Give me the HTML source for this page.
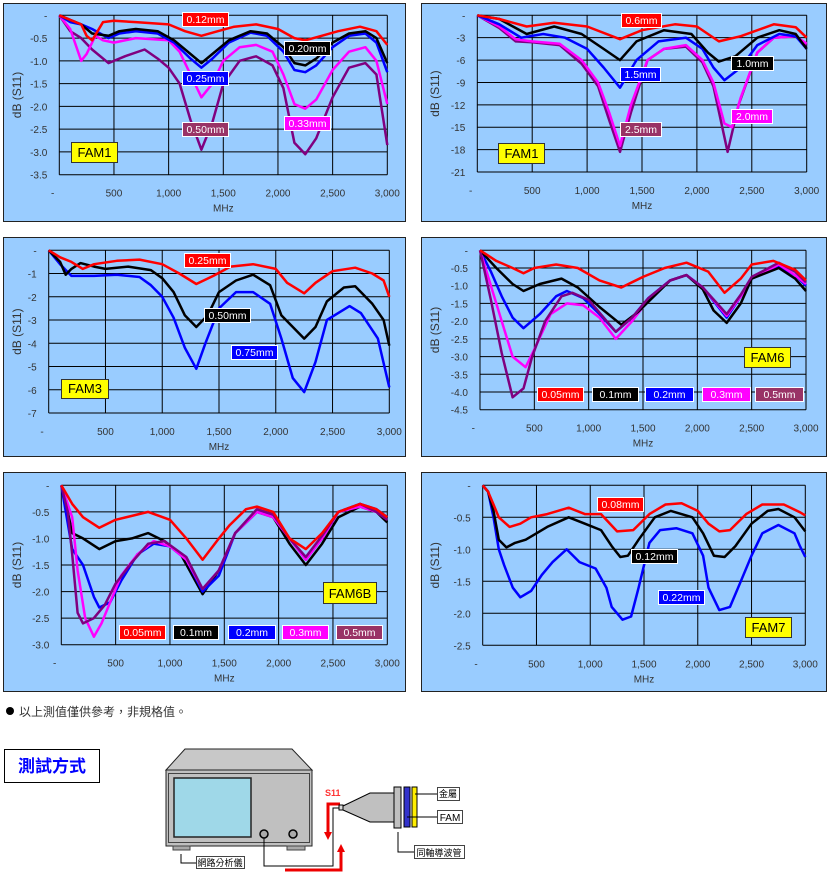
<!DOCTYPE html>
<html><head><meta charset="utf-8">
<style>
html,body{margin:0;padding:0;background:#fff;width:828px;height:885px;overflow:hidden}
svg{display:block}
text{font-family:"Liberation Sans","Noto Sans CJK TC",sans-serif}
</style></head>
<body>
<svg id="root" width="828" height="885" viewBox="0 0 828 885" xmlns="http://www.w3.org/2000/svg">
<g id="charts"></g>
<g>
<circle cx="10" cy="711" r="4" fill="#000"/>
<text x="19" y="716" font-size="12" fill="#333" font-family="Liberation Sans, Noto Sans CJK TC, sans-serif">以上測值僅供參考，非規格值。</text>
</g>
<g>
<rect x="4.5" y="749.5" width="95" height="33" fill="#fff" stroke="#000"/>
<text x="52" y="772" font-size="17" font-weight="bold" fill="#0000ff" text-anchor="middle" font-family="Liberation Sans, Noto Sans CJK TC, sans-serif">測試方式</text>
</g>
<g>
<polygon points="185,749 292,749 312,770 166,770" fill="#c8c8c8" stroke="#222" stroke-width="1"/>
<rect x="166" y="770" width="146" height="76" fill="#c0c0c0" stroke="#222"/>
<rect x="168.5" y="773.5" width="141" height="69" fill="none" stroke="#444"/>
<rect x="174" y="778" width="77" height="59" fill="#9fd8e8" stroke="#222" stroke-width="1.5"/>
<circle cx="264" cy="834" r="4" fill="#aaa" stroke="#000" stroke-width="1.5"/>
<circle cx="293" cy="834" r="4" fill="#aaa" stroke="#000" stroke-width="1.5"/>
<rect x="173" y="846" width="17" height="4" fill="#aaa" stroke="#444"/>
<rect x="287" y="846" width="18" height="4" fill="#aaa" stroke="#444"/>
<polyline points="181,854 181,863 196,863" fill="none" stroke="#000"/>
<rect x="196.5" y="856.5" width="48" height="12" fill="#fff" stroke="#444"/>
<text x="220" y="866" font-size="9" text-anchor="middle" fill="#000">網路分析儀</text>
<polyline points="264,838 264,866 333,866 333,808 340,808" fill="none" stroke="#000" stroke-width="1"/>
<polyline points="340,804 328,804 328,834" fill="none" stroke="#e00" stroke-width="3"/>
<polygon points="324,832 332,832 328,840" fill="#e00"/>
<polyline points="285,870 341,870 341,850" fill="none" stroke="#e00" stroke-width="3"/>
<polygon points="337,852 345,852 341,844" fill="#e00"/>
<text x="325" y="796" font-size="9" font-weight="bold" fill="#f33">S11</text>
<rect x="339" y="805" width="4" height="5" fill="#ddd" stroke="#000"/>
<polygon points="343,806 370,793 394,793 394,822 370,822 343,810" fill="#c0c0c0" stroke="#000"/>
<rect x="394" y="787" width="7" height="41" fill="#c0c0c0" stroke="#000"/>
<rect x="404" y="787" width="6" height="40" fill="#3333cc" stroke="#000"/>
<rect x="412" y="787" width="5" height="40" fill="#ffee00" stroke="#000"/>
<line x1="415" y1="794" x2="437" y2="794" stroke="#000"/>
<line x1="407" y1="817" x2="437" y2="817" stroke="#000"/>
<polyline points="398,832 398,852 414,852" fill="none" stroke="#000"/>
<rect x="437.5" y="787.5" width="22" height="13" fill="#fff" stroke="#444"/>
<text x="448" y="797" font-size="9" text-anchor="middle">金屬</text>
<rect x="437.5" y="810.5" width="25" height="13" fill="#fff" stroke="#444"/>
<text x="450" y="821" font-size="10" text-anchor="middle">FAM</text>
<rect x="414.5" y="845.5" width="50" height="13" fill="#fff" stroke="#444"/>
<text x="439" y="856" font-size="9" text-anchor="middle">同軸導波管</text>
</g>
</svg>
<script>
// ---- Chart 1 (FAM1 small) ----
const c1_x0 = [0,100,200,250,300,350,400,500,700,1000,1150,1300,1450,1600,1800,2000,2150,2250,2400,2550,2750,2900,3000];
const c1_red = [0,-0.1,-0.2,-0.45,-0.55,-0.35,-0.15,-0.12,-0.15,-0.2,-0.35,-0.45,-0.35,-0.25,-0.2,-0.3,-0.5,-0.55,-0.45,-0.35,-0.25,-0.35,-0.65];
const c1_x1 = [0,100,200,300,450,550,700,900,1050,1200,1300,1400,1550,1750,1900,2050,2150,2250,2350,2500,2650,2800,2900,3000];
const c1_black = [0,-0.1,-0.2,-0.4,-0.45,-0.35,-0.3,-0.35,-0.55,-0.85,-1.05,-0.85,-0.55,-0.35,-0.4,-0.7,-1.05,-1.1,-0.95,-0.6,-0.4,-0.35,-0.5,-1.05];
const c1_blue = [0,-0.15,-0.2,-0.3,-0.5,-0.4,-0.35,-0.4,-0.6,-0.95,-1.15,-0.95,-0.6,-0.38,-0.45,-0.8,-1.2,-1.25,-1.1,-0.7,-0.45,-0.4,-0.6,-1.25];
const c1_x2 = [0,100,200,250,330,400,500,700,1000,1100,1200,1300,1400,1500,1650,1800,1950,2050,2150,2250,2350,2500,2650,2800,2900,3000];
const c1_mag = [0,-0.3,-1.0,-0.85,-0.45,-0.55,-0.6,-0.5,-0.55,-0.8,-1.3,-1.8,-1.5,-1.0,-0.7,-0.65,-0.8,-1.3,-1.95,-2.05,-1.85,-1.2,-0.8,-0.7,-1.0,-1.95];
const c1_x3 = [0,100,200,300,450,600,780,900,1000,1100,1200,1300,1400,1500,1650,1800,1950,2050,2150,2250,2350,2500,2650,2800,2900,3000];
const c1_pur = [0,-0.35,-0.5,-0.75,-1.05,-0.9,-0.75,-0.95,-1.15,-1.5,-2.3,-2.95,-2.35,-1.5,-1.0,-0.9,-1.1,-1.6,-2.8,-3.05,-2.7,-1.8,-1.15,-1.05,-1.3,-2.85];
const c1_yticks = ["-","-0.5","-1.0","-1.5","-2.0","-2.5","-3.0","-3.5"];
// ---- Chart 2 (FAM1 large) ----
const c2_xr = [0,200,450,700,1000,1300,1500,1800,2000,2200,2400,2700,2900,3000];
const c2_red = [0,-0.5,-1.5,-1,-1.5,-3.2,-2,-1.2,-1.5,-3.5,-2.8,-1.2,-1.6,-3];
const c2_xk = [0,200,450,700,950,1150,1300,1450,1700,1950,2100,2200,2350,2550,2750,2900,3000];
const c2_black = [0,-0.5,-2.5,-1.5,-2.5,-4.5,-6,-3.5,-2,-2.5,-5,-6.2,-5.5,-3,-2,-2.5,-4.5];
const c2_xb = [0,200,400,600,800,1000,1150,1300,1450,1650,1900,2050,2150,2250,2400,2550,2750,2900,3000];
const c2_blue = [0,-1.2,-3,-2.5,-3,-4.5,-7,-9.7,-6,-3.5,-3,-4.5,-7,-8.7,-7,-4,-2.5,-2.8,-4.5];
const c2_xm = [0,200,350,500,750,950,1100,1200,1300,1400,1550,1700,1900,2050,2150,2250,2320,2400,2550,2700,2900,3000];
const c2_mag = [0,-1.5,-3.2,-3.5,-3.8,-6,-9,-13,-17.5,-12,-6,-4.5,-4,-6,-9,-14.5,-15,-11,-5,-3,-2.8,-3.8];
const c2_xp = [0,200,350,500,750,950,1100,1200,1300,1400,1550,1700,1900,2050,2150,2280,2380,2550,2700,2900,3000];
const c2_pur = [0,-1.7,-3.5,-3.6,-4,-6.5,-9.5,-14,-18.3,-13,-6,-4.5,-4.2,-6.3,-9.5,-18.3,-12,-5,-3,-2.8,-4];
const c2_yticks = ["-","-3","-6","-9","-12","-15","-18","-21"];
// ---- Chart 3 (FAM3) ----
const c3_xr = [0,100,200,300,400,600,800,1000,1150,1300,1450,1600,1800,2000,2100,2250,2350,2500,2700,2850,2950,3000];
const c3_red = [0,-0.3,-0.5,-0.8,-0.6,-0.45,-0.4,-0.6,-1,-1.45,-1.1,-0.7,-0.6,-0.8,-1.4,-1.85,-1.4,-0.9,-0.75,-1,-1.3,-2];
const c3_xk = [0,100,150,200,280,400,500,700,900,1000,1100,1200,1300,1400,1500,1650,1800,1950,2050,2250,2350,2450,2600,2700,2850,2950,3000];
const c3_black = [0,-0.5,-1.05,-0.8,-0.55,-0.7,-0.8,-0.7,-0.85,-1.2,-1.8,-2.8,-3.3,-2.8,-1.8,-1.3,-1.05,-1.5,-2.8,-3.8,-3.3,-2.2,-1.6,-1.55,-2.3,-3,-4.1];
const c3_xb = [0,100,200,400,600,800,900,1000,1100,1200,1300,1380,1500,1650,1800,1950,2050,2150,2250,2350,2450,2550,2650,2750,2900,3000];
const c3_blue = [0,-0.6,-1.1,-1.1,-1.05,-1.15,-1.5,-2,-2.9,-4.2,-5.1,-4,-2.5,-1.8,-1.8,-2.3,-3.8,-5.5,-6.1,-4.8,-3,-2.7,-2.4,-2.7,-3.8,-5.9];
const c3_yticks = ["-","-1","-2","-3","-4","-5","-6","-7"];
// ---- Chart 4 (FAM6) ----
const c4_xr = [0,150,300,400,500,700,900,1100,1300,1500,1700,1900,2100,2250,2400,2500,2700,2900,3000];
const c4_red = [0,-0.3,-0.5,-0.65,-0.5,-0.4,-0.5,-0.85,-1.05,-0.75,-0.5,-0.35,-0.6,-1.2,-0.8,-0.4,-0.3,-0.55,-0.85];
const c4_xk = [0,150,300,400,550,750,900,1100,1300,1450,1600,1750,1900,2050,2150,2270,2400,2500,2750,2900,3000];
const c4_black = [0,-0.5,-0.95,-1.15,-0.95,-0.8,-1.05,-1.6,-2.1,-1.75,-1.3,-0.85,-0.7,-1.1,-1.7,-2.05,-1.5,-0.8,-0.5,-0.8,-1.15];
const c4_xb = [0,100,200,300,400,550,700,800,950,1100,1250,1400,1550,1750,1900,2050,2270,2400,2500,2750,2900,3000];
const c4_blue = [0,-0.6,-1.3,-1.9,-2.2,-1.8,-1.3,-1.15,-1.35,-1.8,-2.3,-1.9,-1.35,-0.85,-0.7,-1.05,-1.9,-1.3,-0.8,-0.45,-0.7,-1];
const c4_xm = [0,100,200,300,420,500,650,800,950,1100,1250,1400,1550,1750,1900,2050,2270,2400,2500,2750,2900,3000];
const c4_mag = [0,-1,-2,-3,-3.3,-2.8,-1.8,-1.5,-1.55,-1.9,-2.5,-2,-1.4,-0.85,-0.7,-1.05,-1.85,-1.3,-0.8,-0.4,-0.7,-0.95];
const c4_xp = [0,100,200,300,400,480,600,750,850,1000,1250,1400,1550,1750,1900,2050,2270,2400,2500,2750,2900,3000];
const c4_pur = [0,-1.4,-2.9,-4.15,-3.9,-3.0,-2,-1.3,-1.2,-1.4,-2.3,-1.9,-1.35,-0.85,-0.7,-1.05,-1.8,-1.25,-0.75,-0.35,-0.6,-0.9];
const c4_yticks = ["-","-0.5","-1.0","-1.5","-2.0","-2.5","-3.0","-3.5","-4.0","-4.5"];
// ---- Chart 5 (FAM6B) ----
const c5_xr = [0,100,200,350,500,800,1000,1150,1300,1450,1550,1700,1800,1950,2100,2250,2400,2550,2750,2900,3000];
const c5_red = [0,-0.35,-0.6,-0.8,-0.65,-0.5,-0.65,-1,-1.4,-1.0,-0.75,-0.45,-0.4,-0.5,-1,-1.2,-0.9,-0.5,-0.35,-0.45,-0.6];
const c5_xk = [0,50,100,200,350,500,650,800,950,1100,1300,1450,1600,1800,1950,2100,2250,2400,2550,2750,2900,3000];
const c5_black = [0,-0.4,-0.9,-1,-1.2,-1.05,-1,-0.9,-1.05,-1.3,-2.05,-1.6,-0.9,-0.5,-0.6,-1.1,-1.5,-1.1,-0.6,-0.4,-0.5,-0.7];
const c5_xb = [0,50,100,200,300,350,450,550,700,850,1000,1150,1300,1450,1600,1800,1950,2100,2250,2400,2550,2750,2900,3000];
const c5_blue = [0,-0.6,-1.2,-1.5,-2.1,-2.3,-2.2,-1.8,-1.3,-1.1,-1.15,-1.4,-2,-1.7,-0.9,-0.5,-0.55,-1,-1.4,-1,-0.5,-0.35,-0.45,-0.6];
const c5_xm = [0,100,150,220,300,370,450,550,700,850,1000,1150,1300,1450,1600,1800,1950,2100,2250,2400,2550,2750,2900,3000];
const c5_mag = [0,-0.6,-1.6,-2.5,-2.85,-2.6,-2.2,-1.7,-1.3,-1.05,-1.15,-1.4,-1.95,-1.6,-0.9,-0.5,-0.6,-1,-1.4,-1,-0.5,-0.4,-0.5,-0.65];
const c5_xp = [0,60,100,150,200,300,400,500,650,800,950,1150,1300,1450,1600,1800,1950,2100,2250,2400,2550,2750,2900,3000];
const c5_pur = [0,-0.5,-1.3,-2.4,-2.6,-2.5,-2.25,-1.85,-1.45,-1.1,-1.05,-1.35,-1.95,-1.6,-0.9,-0.45,-0.55,-1,-1.35,-0.95,-0.5,-0.35,-0.5,-0.65];
const c5_yticks = ["-","-0.5","-1.0","-1.5","-2.0","-2.5","-3.0"];
// ---- Chart 6 (FAM7) ----
const c6_xr = [0,50,100,150,250,350,450,600,800,950,1100,1250,1400,1550,1700,1850,2000,2100,2200,2300,2450,2600,2800,2950,3000];
const c6_red = [0,-0.1,-0.3,-0.5,-0.65,-0.6,-0.5,-0.45,-0.35,-0.45,-0.45,-0.72,-0.7,-0.45,-0.3,-0.28,-0.4,-0.6,-0.72,-0.7,-0.45,-0.3,-0.3,-0.42,-0.47];
const c6_xk = [0,50,100,150,220,300,400,500,600,800,950,1100,1200,1280,1350,1450,1600,1750,1950,2050,2150,2250,2350,2500,2650,2750,2900,3000];
const c6_black = [0,-0.1,-0.4,-0.85,-0.97,-0.9,-0.85,-0.75,-0.65,-0.5,-0.6,-0.7,-0.95,-1.12,-1.1,-0.85,-0.5,-0.4,-0.5,-0.75,-1.1,-1.12,-0.95,-0.6,-0.4,-0.37,-0.5,-0.72];
const c6_xb = [0,50,100,150,200,280,350,450,550,650,780,900,1050,1150,1200,1300,1380,1450,1550,1650,1800,1950,2050,2100,2200,2300,2400,2500,2600,2750,2900,2950,3000];
const c6_blue = [0,-0.1,-0.5,-1.0,-1.25,-1.6,-1.75,-1.65,-1.4,-1.2,-1.0,-1.2,-1.3,-1.6,-1.9,-2.1,-2.05,-1.6,-0.9,-0.7,-0.67,-0.75,-1.1,-1.6,-1.95,-1.9,-1.5,-1.1,-0.75,-0.62,-0.75,-0.95,-1.12];
const c6_yticks = ["-","-0.5","-1.0","-1.5","-2.0","-2.5"];
const xticks = ["-","500","1,000","1,500","2,000","2,500","3,000"];

const NS = "http://www.w3.org/2000/svg";
const COL = {red:"#ff0000",black:"#000000",blue:"#0000ff",mag:"#ff00ff",pur:"#800080"};
const LBL = {red:"#ff0000",black:"#000000",blue:"#0000ff",mag:"#ff00ff",pur:"#993366"};
const root = document.getElementById("charts");
function mk(tag, attrs, parent){const e=document.createElementNS(NS,tag);for(const k in attrs)e.setAttribute(k,attrs[k]);parent.appendChild(e);return e;}

function chart(id, box, plot, ymin, yticks, series, labels, famBox, legend){
  const g = mk("g",{},root);
  
  
  const bg = mk("rect",{x:box[0]+0.5,y:box[1]+0.5,width:box[2]-box[0],height:box[3]-box[1],fill:"#99ccff",stroke:"#222","stroke-width":1},g);
  
  
  const [L,T,R,B] = plot;
  const xs = v => L + (v/3000)*(R-L);
  const ys = v => T + (v/ymin)*(B-T);
  const n = yticks.length-1;
  for(let i=0;i<=n;i++){
    const v = ymin*i/n, y = ys(v);
    const gl = mk("line",{x1:L,x2:R,y1:y,y2:y,stroke:"#000","stroke-width":1},g);
    
    
    const t = mk("text",{x:L-12,y:y+4,"font-size":10,fill:"#333","text-anchor":"end"},g);
    t.textContent = yticks[i];
    
    
  }
  for(let i=0;i<xticks.length;i++){
    const v = i*500, x = xs(v);
    const gl = mk("line",{x1:x,x2:x,y1:T,y2:B,stroke:"#000","stroke-width":1},g);
    
    
    const t = mk("text",{x:i==0?x-5:x,y:B+22,"font-size":10,fill:"#333","text-anchor":i==0?"end":"middle"},g);
    t.textContent = xticks[i];
    
    
  }
  const xt = mk("text",{x:(L+R)/2,y:B+37,"font-size":10,fill:"#333","text-anchor":"middle"},g);
  xt.textContent = "MHz";
  
  
  const yx = box[0]+18, yy=(T+B)/2;
  const yt = mk("text",{x:yx,y:yy,"font-size":12,fill:"#333","text-anchor":"middle",transform:`rotate(-90 ${yx} ${yy})`},g);
  yt.textContent = "dB (S11)";
  
  
  series.forEach(s=>{
    const pts = s.x.map((v,i)=>xs(v).toFixed(1)+","+ys(s.y[i]).toFixed(1)).join(" ");
    const p = mk("polyline",{points:pts,fill:"none",stroke:COL[s.c],"stroke-width":2.5,"stroke-linejoin":"round"},g);
    
    
  });
  labels.forEach(l=>{
    const r = mk("rect",{x:l[0]+0.5,y:l[1]+0.5,width:l[2]-l[0],height:l[3]-l[1],fill:LBL[l[4]],stroke:"#fff","stroke-width":1},g);
    
    
    const t = mk("text",{x:(l[0]+l[2])/2+0.5,y:l[3]-3,"font-size":10.5,fill:"#fff","text-anchor":"middle"},g);
    t.textContent = l[5];
    
    
  });
  const fb = mk("rect",{x:famBox[0]+0.5,y:famBox[1]+0.5,width:famBox[2]-famBox[0],height:famBox[3]-famBox[1],fill:"#ffff00",stroke:"#333","stroke-width":1},g);
  
  
  const ft = mk("text",{x:(famBox[0]+famBox[2])/2+0.5,y:famBox[3]-5,"font-size":13,fill:"#000","text-anchor":"middle"},g);
  ft.textContent = famBox[4];
  
  
}

chart("chart-fam1-small",[3,3,405,221],[59.3,15.3,387.3,174.7],-3.5,c1_yticks,[
 {x:c1_x3,y:c1_pur,c:"pur",n:"0.50mm"},{x:c1_x2,y:c1_mag,c:"mag",n:"0.33mm"},
 {x:c1_x1,y:c1_blue,c:"blue",n:"0.25mm"},{x:c1_x1,y:c1_black,c:"black",n:"0.20mm"},{x:c1_x0,y:c1_red,c:"red",n:"0.12mm"}],
 [[182,12,228,26,"red","0.12mm"],[284,41,330,55,"black","0.20mm"],[182,71,228,85,"blue","0.25mm"],[182,122,228,136,"pur","0.50mm"],[284,116,330,130,"mag","0.33mm"]],
 [71,142,117,162,"FAM1"]);
chart("chart-fam1-large",[421,3,826,221],[477.3,15.3,806.7,172],-21,c2_yticks,[
 {x:c2_xp,y:c2_pur,c:"pur",n:"2.5mm"},{x:c2_xm,y:c2_mag,c:"mag",n:"2.0mm"},
 {x:c2_xb,y:c2_blue,c:"blue",n:"1.5mm"},{x:c2_xk,y:c2_black,c:"black",n:"1.0mm"},{x:c2_xr,y:c2_red,c:"red",n:"0.6mm"}],
 [[621,13,661,27,"red","0.6mm"],[731,56,773,70,"black","1.0mm"],[620,67,660,81,"blue","1.5mm"],[731,109,772,123,"mag","2.0mm"],[620,122,661,136,"pur","2.5mm"]],
 [498,143,544,163,"FAM1"]);
chart("chart-fam3",[3,237,405,456],[48.7,250.3,389.3,413],-7,c3_yticks,[
 {x:c3_xb,y:c3_blue,c:"blue",n:"0.75mm"},{x:c3_xk,y:c3_black,c:"black",n:"0.50mm"},{x:c3_xr,y:c3_red,c:"red",n:"0.25mm"}],
 [[184,253,230,267,"red","0.25mm"],[204,308,250,322,"black","0.50mm"],[231,345,277,359,"blue","0.75mm"]],
 [61,379,108,398,"FAM3"]);
chart("chart-fam6",[421,237,826,456],[480,250.3,806,409.7],-4.5,c4_yticks,[
 {x:c4_xb,y:c4_blue,c:"blue",n:"0.2mm"},{x:c4_xm,y:c4_mag,c:"mag",n:"0.3mm"},{x:c4_xk,y:c4_black,c:"black",n:"0.1mm"},
 {x:c4_xp,y:c4_pur,c:"pur",n:"0.5mm"},{x:c4_xr,y:c4_red,c:"red",n:"0.05mm"}],
 [[537,387,583,401,"red","0.05mm"],[592,387,638,401,"black","0.1mm"],[645,387,693,401,"blue","0.2mm"],[702,387,750,401,"mag","0.3mm"],[755,387,803,401,"pur","0.5mm"]],
 [744,347,790,367,"FAM6"]);
chart("chart-fam6b",[3,472,405,691],[61.3,485.3,387.3,644.7],-3.0,c5_yticks,[
 {x:c5_xk,y:c5_black,c:"black",n:"0.1mm"},{x:c5_xb,y:c5_blue,c:"blue",n:"0.2mm"},{x:c5_xm,y:c5_mag,c:"mag",n:"0.3mm"},
 {x:c5_xp,y:c5_pur,c:"pur",n:"0.5mm"},{x:c5_xr,y:c5_red,c:"red",n:"0.05mm"}],
 [[119,625,165,639,"red","0.05mm"],[173,625,218,639,"black","0.1mm"],[228,625,275,639,"blue","0.2mm"],[282,625,328,639,"mag","0.3mm"],[336,625,382,639,"pur","0.5mm"]],
 [323,582,376,603,"FAM6B"]);
chart("chart-fam7",[421,472,826,691],[482.7,485.3,805.3,645.3],-2.5,c6_yticks,[
 {x:c6_xb,y:c6_blue,c:"blue",n:"0.22mm"},{x:c6_xk,y:c6_black,c:"black",n:"0.12mm"},{x:c6_xr,y:c6_red,c:"red",n:"0.08mm"}],
 [[597,497,643,511,"red","0.08mm"],[631,549,677,563,"black","0.12mm"],[658,590,704,604,"blue","0.22mm"]],
 [745,617,791,637,"FAM7"]);
</script>
</body></html>
